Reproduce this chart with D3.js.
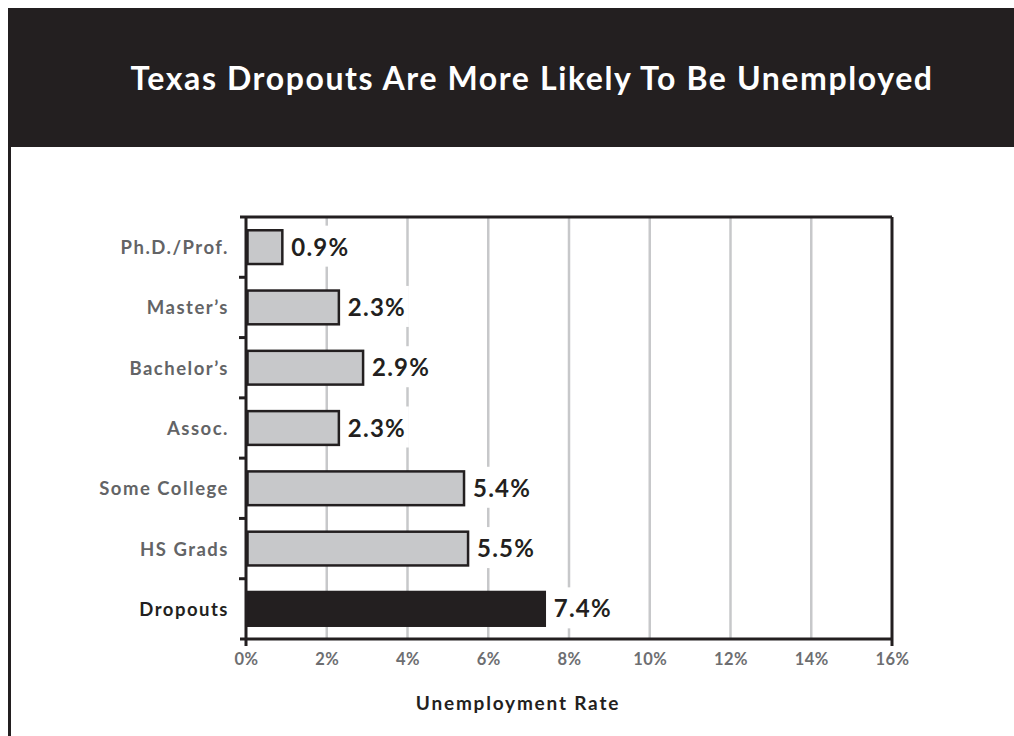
<!DOCTYPE html>
<html>
<head>
<meta charset="utf-8">
<script src="https://cdn.jsdelivr.net/npm/d3@7"></script>
<style>
  body { margin: 0; background: #fff; }
  text { font-family: Lato, 'Open Sans', sans-serif; font-weight: 700; }
</style>
</head>
<body>
<div id="chart"></div>
<script>
'use strict';

var titleText = 'Texas Dropouts Are More Likely To Be Unemployed';
var axisTitle = 'Unemployment Rate';
var categories = ['Ph.D./Prof.', 'Master\u2019s', 'Bachelor\u2019s', 'Assoc.', 'Some College', 'HS Grads', 'Dropouts'];
var rates = [0.9, 2.3, 2.9, 2.3, 5.4, 5.5, 7.4];
var highlight = 'Dropouts';
var xTicks = [0, 2, 4, 6, 8, 10, 12, 14, 16];

var W = 1014, H = 736;
var dark = '#231f20';
var margin = {top: 217, right: 122, bottom: 97, left: 246};
var width = W - margin.left - margin.right;
var height = H - margin.top - margin.bottom;

var svg = d3.select('#chart').append('svg')
	.attr('width', W)
	.attr('height', H);

// header band + left rule
svg.append('rect')
	.attr('x', 8).attr('y', 8)
	.attr('width', W - 8).attr('height', 139)
	.attr('fill', dark);

svg.append('line')
	.attr('x1', 9.5).attr('x2', 9.5)
	.attr('y1', 147).attr('y2', H)
	.attr('stroke', dark).attr('stroke-width', 3);

svg.append('text')
	.attr('x', 532).attr('y', 90)
	.attr('text-anchor', 'middle')
	.attr('fill', '#fff')
	.style('font-size', '32px')
	.style('letter-spacing', '1.6px')
	.text(titleText);

var g = svg.append('g')
	.attr('transform', 'translate(' + margin.left + ',' + margin.top + ')');

var x = d3.scaleLinear()
	.domain([0, 16])
	.range([0, width]);

var y = d3.scaleBand()
	.domain(categories)
	.range([0, height])
	.paddingInner(0.44)
	.paddingOuter(0.22);

var step = y.step();

// gridlines
g.append('g')
	.selectAll('line')
	.data(xTicks.slice(1, -1))
	.enter()
	.append('line')
	.attr('x1', function(d){ return x(d); })
	.attr('x2', function(d){ return x(d); })
	.attr('y1', 0)
	.attr('y2', height)
	.attr('stroke', '#c7c8ca')
	.attr('stroke-width', 2.5);

// bars
g.append('g')
	.selectAll('rect')
	.data(categories)
	.enter()
	.append('rect')
	.attr('x', 1.5)
	.attr('y', function(d){ return y(d); })
	.attr('width', function(d, i){ return x(rates[i]) - 1.5; })
	.attr('height', y.bandwidth())
	.attr('fill', function(d){ return d === highlight ? dark : '#c7c8ca'; })
	.attr('stroke', dark)
	.attr('stroke-width', 2.5);

// value labels with white knock-out behind
var labels = g.append('g')
	.selectAll('g')
	.data(categories)
	.enter()
	.append('g')
	.attr('transform', function(d, i){
		return 'translate(' + (x(rates[i]) + 9) + ',' + (y(d) + y.bandwidth() / 2 + 8.5) + ')';
	});

labels.append('rect')
	.attr('fill', '#fff');

labels.append('text')
	.attr('fill', dark)
	.style('font-size', '24px')
	.style('letter-spacing', '1.2px')
	.text(function(d, i){ return rates[i].toFixed(1) + '%'; });

labels.each(function(){
	var box = d3.select(this).select('text').node().getBBox();
	d3.select(this).select('rect')
		.attr('x', box.x - 3)
		.attr('y', box.y - 6)
		.attr('width', box.width + 6)
		.attr('height', box.height + 12);
});

// category labels
g.append('g')
	.selectAll('text')
	.data(categories)
	.enter()
	.append('text')
	.attr('x', -17)
	.attr('y', function(d){ return y(d) + y.bandwidth() / 2 + 7; })
	.attr('text-anchor', 'end')
	.attr('fill', function(d){ return d === highlight ? dark : '#636466'; })
	.style('font-size', '18.5px')
	.style('letter-spacing', '1.5px')
	.text(function(d){ return d; });

// frame: y axis, top rule, right rule, x axis
var frame = g.append('g')
	.attr('stroke', dark)
	.attr('stroke-width', 3);

frame.append('line')
	.attr('x1', 0).attr('x2', 0)
	.attr('y1', 0).attr('y2', height + 7);
frame.append('line')
	.attr('x1', -6).attr('x2', width)
	.attr('y1', 0).attr('y2', 0);
frame.append('line')
	.attr('x1', width).attr('x2', width)
	.attr('y1', 0).attr('y2', height + 7);
frame.append('line')
	.attr('x1', -6).attr('x2', width)
	.attr('y1', height).attr('y2', height);

// y ticks between categories
frame.selectAll('line.ytick')
	.data(categories.slice(1))
	.enter()
	.append('line')
	.attr('class', 'ytick')
	.attr('x1', -7).attr('x2', 0)
	.attr('y1', function(d){ return y(d) - step * y.paddingInner() / 2; })
	.attr('y2', function(d){ return y(d) - step * y.paddingInner() / 2; });

// x axis labels
var xAxis = d3.axisBottom(x)
	.tickValues(xTicks)
	.tickSize(0)
	.tickPadding(14)
	.tickFormat(function(d){ return d + '%'; });

var xg = g.append('g')
	.attr('transform', 'translate(0,' + height + ')')
	.call(xAxis);

xg.select('.domain').remove();
xg.selectAll('text')
	.attr('fill', '#6d6e71')
	.style('font-family', 'Lato, sans-serif')
	.style('font-weight', 700)
	.style('font-size', '16.5px')
	.style('letter-spacing', '0.5px');

svg.append('text')
	.attr('x', 518).attr('y', 710)
	.attr('text-anchor', 'middle')
	.attr('fill', dark)
	.style('font-size', '19px')
	.style('letter-spacing', '1.8px')
	.text(axisTitle);
</script>
</body>
</html>
